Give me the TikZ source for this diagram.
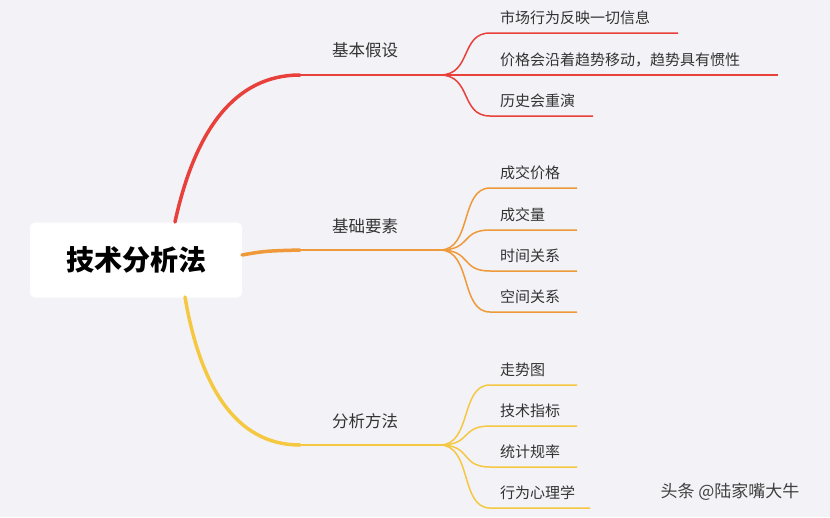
\documentclass[tikz,border=0pt]{standalone}
\usepackage{fontspec}
\setmainfont{Noto Sans CJK SC}
\definecolor{bg}{HTML}{F3F2F7}
\definecolor{cR}{HTML}{E8403A}
\definecolor{cO}{HTML}{EE9A3A}
\definecolor{cY}{HTML}{F5C842}
\definecolor{tx}{HTML}{333333}
\begin{document}
\begin{tikzpicture}[x=1pt,y=-1pt,
  leaf/.style={anchor=south west,inner sep=0pt,font=\fontsize{15}{16}\selectfont,text=tx},
  mid/.style={anchor=south,inner sep=0pt,font=\fontsize{16.5}{17}\selectfont,text=tx},
  trunk/.style={line width=3.5pt,line cap=round},
  sub/.style={line width=1.5pt}]
\fill[bg] (0,0) rectangle (830,517);
\useasboundingbox (0,0) rectangle (830,517);
\node[fill=white,rounded corners=5pt,minimum width=212pt,minimum height=75pt,font=\fontsize{28}{30}\selectfont\bfseries] (root) at (136,260) {技术分析法};
% red
\coordinate (r0) at (175,222); \coordinate (r1) at (300,75); \coordinate (r2) at (440,75);
\draw[cR,trunk] (r0) .. controls (195,130) and (235,75) .. (r1);
\draw[cR,line width=1.8pt] (r1) -- (r2);
\node[mid] (a) at (365,58) {基本假设};
\foreach \n/\y/\e/\t in {a1/33/678/市场行为反映一切信息, a2/75/778/价格会沿着趋势移动，趋势具有惯性, a3/116/593/历史会重演}{
  \coordinate (\n s) at (490,\y); \coordinate (\n e) at (\e,\y);
  \draw[cR,sub] (r2) .. controls (472,75) and (460,\y) .. (\n s) -- (\n e);
  \node[leaf] (\n) at (500,\y-8) {\t};}
% orange
\coordinate (o0) at (242,255); \coordinate (o1) at (300,250); \coordinate (o2) at (440,250);
\draw[cO,trunk] (o0) .. controls (265,251) .. (o1);
\draw[cO,line width=1.8pt] (o1) -- (o2);
\node[mid] (b) at (365,234) {基础要素};
\foreach \n/\y/\t in {b1/188/成交价格, b2/230/成交量, b3/271/时间关系, b4/312/空间关系}{
  \coordinate (\n s) at (490,\y); \coordinate (\n e) at (577,\y);
  \draw[cO,sub] (o2) .. controls (472,250) and (460,\y) .. (\n s) -- (\n e);
  \node[leaf] (\n) at (500,\y-8) {\t};}
% yellow
\coordinate (y0) at (185,297); \coordinate (y1) at (300,445); \coordinate (y2) at (440,445);
\draw[cY,trunk] (y0) .. controls (200,385) and (235,445) .. (y1);
\draw[cY,line width=1.8pt] (y1) -- (y2);
\node[mid] (c) at (365,429) {分析方法};
\foreach \n/\y/\e/\t in {c1/385/577/走势图, c2/426/577/技术指标, c3/467/577/统计规率, c4/508/590/行为心理学}{
  \coordinate (\n s) at (490,\y); \coordinate (\n e) at (\e,\y);
  \draw[cY,sub] (y2) .. controls (472,445) and (460,\y) .. (\n s) -- (\n e);
  \node[leaf] (\n) at (500,\y-8) {\t};}
\node[font=\fontsize{17}{18}\selectfont,text=black!75] (wm) at (730,492) {头条 @陆家嘴大牛};
\end{tikzpicture}
\end{document}
